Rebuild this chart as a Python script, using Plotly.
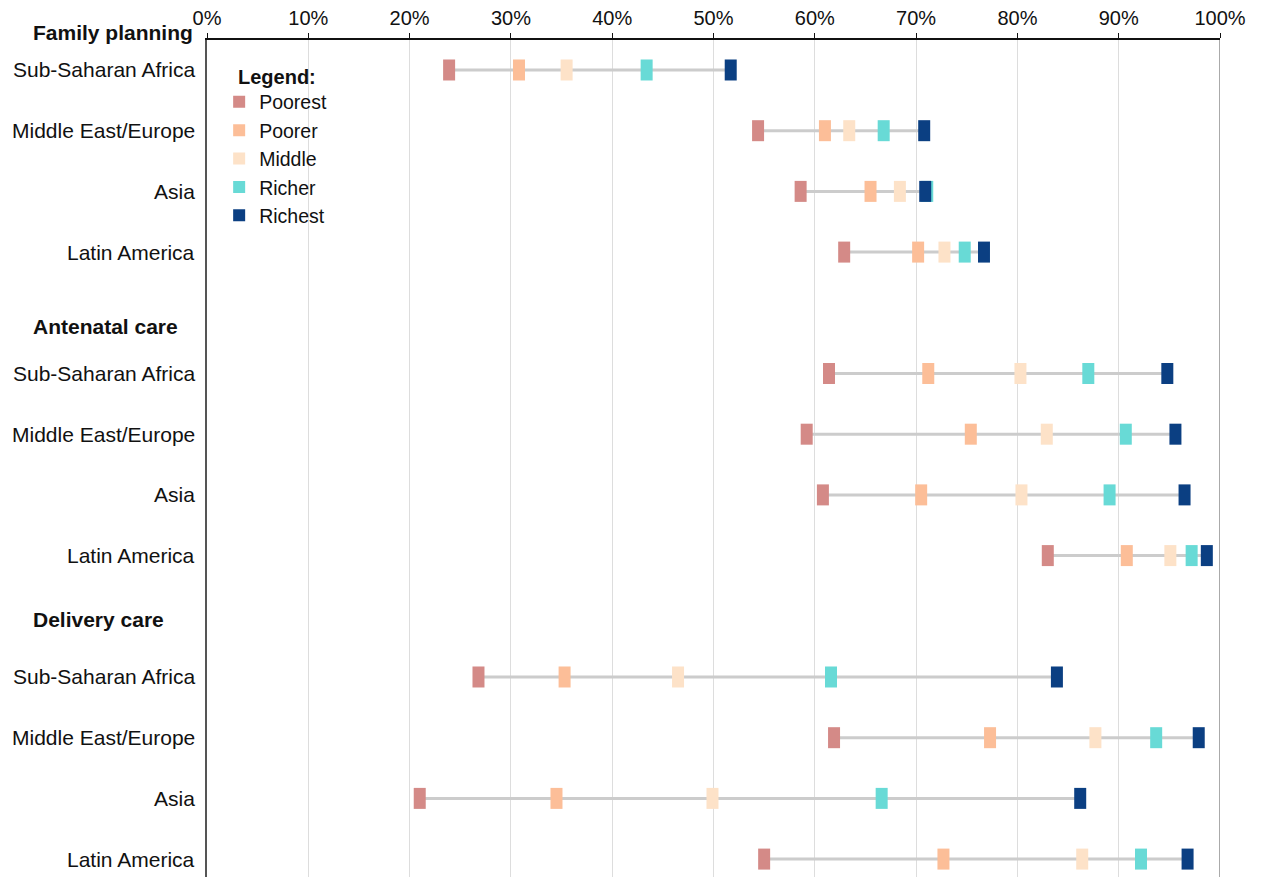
import plotly.graph_objects as go

sections = ["Family planning", "Antenatal care", "Delivery care"]
regions = ["Sub-Saharan Africa", "Middle East/Europe", "Asia", "Latin America"]
header_pos = [-0.61, 4.23, 9.06]

quintiles = ["Poorest", "Poorer", "Middle", "Richer", "Richest"]
colors = ["#d48a87", "#fcbe98", "#fde2c8", "#68dad6", "#0b3f82"]

# percent of women covered, rows = section x region
poorest = [23.9, 54.4, 58.6, 62.9, 61.4, 59.2, 60.8, 83.0, 26.8, 61.9, 21.0, 55.0]
poorer = [30.8, 61.0, 65.5, 70.2, 71.2, 75.4, 70.5, 90.8, 35.3, 77.3, 34.5, 72.7]
middle = [35.5, 63.4, 68.4, 72.8, 80.3, 82.9, 80.4, 95.1, 46.5, 87.7, 49.9, 86.4]
richer = [43.4, 66.8, 71.1, 74.8, 87.0, 90.7, 89.1, 97.2, 61.6, 93.7, 66.6, 92.2]
richest = [51.7, 70.8, 70.9, 76.7, 94.8, 95.6, 96.5, 98.7, 83.9, 97.9, 86.2, 96.8]

ticks = [0, 10, 20, 30, 40, 50, 60, 70, 80, 90, 100]

# y slot of every row: one blank slot between sections
ypos = [s * 5 + r for s in range(len(sections)) for r in range(len(regions))]
series = [poorest, poorer, middle, richer, richest]

Y_BOTTOM, Y_TOP = 13.295, -0.494

FONT = "Liberation Sans, Arial, Helvetica, sans-serif"

fig = go.Figure()

# grey connectors from poorest to richest
lx, ly = [], []
for a, b, y in zip(poorest, richest, ypos):
    lx += [a, b, None]
    ly += [y, y, None]
fig.add_trace(go.Scatter(x=lx, y=ly, mode="lines",
                         line=dict(color="#cccccc", width=3),
                         showlegend=False, hoverinfo="skip"))

for name, vals, col in zip(quintiles, series, colors):
    fig.add_trace(go.Scatter(
        x=vals, y=ypos, mode="markers", name=name, showlegend=False,
        marker=dict(symbol="line-ns", size=15, color=col,
                    line=dict(width=12, color=col)),
    ))

# legend entries only
for name, col in zip(quintiles, colors):
    fig.add_trace(go.Scatter(
        x=[None], y=[None], mode="markers", name=name,
        marker=dict(symbol="square", size=12, color=col),
    ))

annotations = []
for s, sec in enumerate(sections):
    # paper coords so the first header can sit above the plot area
    yp = (Y_BOTTOM - header_pos[s]) / (Y_BOTTOM - Y_TOP)
    annotations.append(dict(
        text="<b>%s</b>" % sec, xref="paper", yref="paper",
        x=-0.1738, y=yp, xanchor="left", yanchor="middle",
        showarrow=False, font=dict(size=21, color="#111111", family=FONT),
    ))
for r, y in enumerate(ypos):
    annotations.append(dict(
        text=regions[r % len(regions)], xref="paper", yref="y",
        x=-0.0099, y=y, xanchor="right", yanchor="middle",
        showarrow=False, font=dict(size=21, color="#111111", family=FONT),
    ))
annotations.append(dict(
    text="<b>Legend:</b>", xref="paper", yref="paper",
    x=0.0286, y=0.9558, xanchor="left", yanchor="middle",
    showarrow=False, font=dict(size=20, color="#111111", family=FONT),
))

fig.update_layout(
    width=1247, height=869,
    margin=dict(l=199, r=35, t=32, b=0),
    plot_bgcolor="white", paper_bgcolor="white",
    font=dict(family=FONT, size=20, color="#111111"),
    annotations=annotations,
    shapes=[dict(type="line", xref="x", yref="paper", x0=100, x1=100,
                 y0=0, y1=1, line=dict(color="#aaaaaa", width=2))],
    legend=dict(
        x=0.012, y=0.949, xanchor="left", yanchor="top",
        font=dict(size=19.5), bgcolor="rgba(0,0,0,0)",
        itemsizing="constant", tracegroupgap=0,
    ),
    xaxis=dict(
        range=[0, 100], side="top", tickvals=ticks,
        ticktext=["%d%%" % t for t in ticks],
        showgrid=True, gridcolor="#dddddd", gridwidth=1,
        showline=True, linecolor="#111111", linewidth=2,
        ticks="outside", ticklen=5, tickcolor="#111111",
        tickfont=dict(size=20), zeroline=False, fixedrange=True,
    ),
    yaxis=dict(
        range=[Y_BOTTOM, Y_TOP], showticklabels=False, showgrid=False,
        zeroline=False, showline=True, linecolor="#555555", linewidth=2,
        ticks="",
    ),
)

fig.write_html("out.html")
